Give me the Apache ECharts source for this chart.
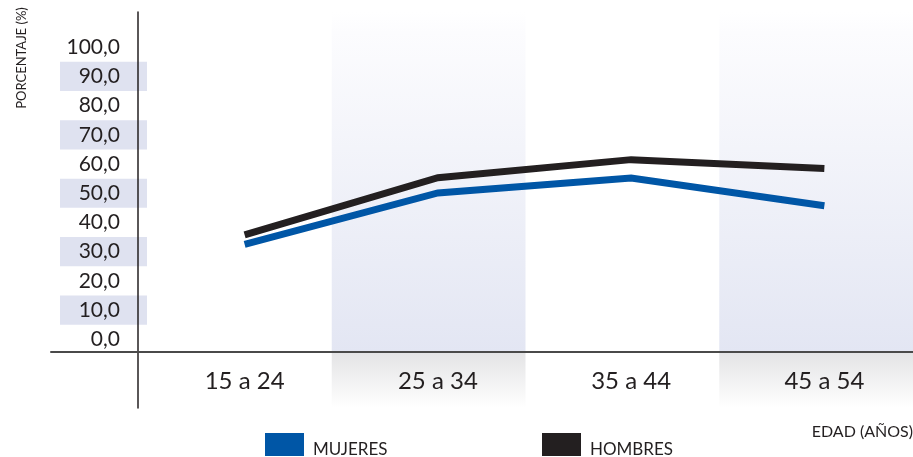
<!DOCTYPE html>
<html>
<head>
<meta charset="utf-8">
<script src="https://cdn.jsdelivr.net/npm/echarts@6/dist/echarts.min.js"></script>
<style>
  html, body { margin: 0; padding: 0; background: #fff; }
  #chart { width: 913px; height: 457px; }
</style>
</head>
<body>
<div id="chart"></div>
<script>
var categories = ['15 a 24', '25 a 34', '35 a 44', '45 a 54']
var mujeres = [32.5, 50.1, 55.2, 45.7]
var hombres = [35.8, 55.3, 61.5, 58.5]
var yTicks = [0, 10, 20, 30, 40, 50, 60, 70, 80, 90, 100]

var TEXT = '#231f20'
var BLUE = '#0056a6'
var FONT = 'Lato'

// vertical layout (px) and value range of the plot
var H = 457
var plotTop = 12
var axisY = 352
var yMin = -4.3
var yMax = 112
function yPix(v) {
  return plotTop + (yMax - v) / (yMax - yMin) * (axisY - plotTop)
}

function fmt(v) {
  return v.toFixed(1).replace('.', ',')
}

var legendText = {
  color: TEXT,
  fontFamily: FONT,
  fontSize: 17,
  rich: {
    t: { color: TEXT, fontFamily: FONT, fontSize: 17, padding: [10, 0, 0, 4] }
  }
}

var chart = echarts.init(document.getElementById('chart'))

chart.setOption({
  animation: false,
  backgroundColor: '#fff',
  grid: [
    // 0: data
    { left: 148, width: 773, top: plotTop, bottom: H - axisY, outerBoundsMode: 'none' },
    // 1: shaded columns above the axis + vertical axis
    { left: 138, right: 0, top: plotTop, bottom: H - axisY, outerBoundsMode: 'none' },
    // 2: shaded columns below the axis
    { left: 138, right: 0, top: axisY, bottom: 49, outerBoundsMode: 'none' },
    // 3: horizontal axis line
    { left: 51, right: 0, top: plotTop, bottom: H - axisY, outerBoundsMode: 'none' },
    // 4: bands behind y labels
    { left: 60, width: 87, top: yPix(95), bottom: H - yPix(5), outerBoundsMode: 'none' }
  ],
  xAxis: [
    {
      gridIndex: 0,
      type: 'category',
      data: categories,
      boundaryGap: true,
      axisLine: { show: false },
      axisTick: { show: false },
      axisLabel: { color: TEXT, fontFamily: FONT, fontSize: 24, margin: 17 }
    },
    {
      gridIndex: 1,
      type: 'category',
      data: categories,
      axisLine: { show: false },
      axisTick: { show: false },
      axisLabel: { show: false },
      splitArea: {
        show: true,
        areaStyle: {
          color: [
            'rgba(0,0,0,0)',
            new echarts.graphic.LinearGradient(0, 0, 0, 1, [
              { offset: 0, color: '#ffffff' },
              { offset: 0.06, color: '#fcfcfe' },
              { offset: 1, color: '#e3e6f3' }
            ])
          ]
        }
      }
    },
    {
      gridIndex: 2,
      type: 'category',
      data: categories,
      axisLine: { show: false },
      axisTick: { show: false },
      axisLabel: { show: false },
      splitArea: {
        show: true,
        areaStyle: {
          color: [
            'rgba(0,0,0,0)',
            new echarts.graphic.LinearGradient(0, 0, 0, 1, [
              { offset: 0, color: '#e3e3e5' },
              { offset: 1, color: '#ffffff' }
            ])
          ]
        }
      }
    },
    {
      gridIndex: 3,
      type: 'value',
      z: 1,
      axisLine: { show: true, onZero: false, lineStyle: { color: '#4a4a4a', width: 2 } },
      axisTick: { show: false },
      axisLabel: { show: false },
      splitLine: { show: false }
    },
    {
      gridIndex: 4,
      type: 'value',
      show: false
    }
  ],
  yAxis: [
    {
      gridIndex: 0,
      type: 'value',
      min: yMin,
      max: yMax,
      z: 1,
      axisLine: { show: false },
      axisTick: { show: false },
      splitLine: { show: false },
      axisLabel: {
        customValues: yTicks,
        formatter: fmt,
        color: TEXT,
        fontFamily: FONT,
        fontSize: 21,
        margin: 28
      }
    },
    {
      gridIndex: 1,
      type: 'value',
      z: 1,
      axisLine: { show: true, lineStyle: { color: TEXT, width: 1.5 } },
      axisTick: { show: false },
      axisLabel: { show: false },
      splitLine: { show: false }
    },
    {
      gridIndex: 2,
      type: 'value',
      z: 1,
      axisLine: { show: true, lineStyle: { color: TEXT, width: 1.5 } },
      axisTick: { show: false },
      axisLabel: { show: false },
      splitLine: { show: false }
    },
    {
      gridIndex: 3,
      type: 'value',
      show: false
    },
    {
      gridIndex: 4,
      type: 'value',
      min: 5,
      max: 95,
      interval: 10,
      z: 0,
      axisLine: { show: false },
      axisTick: { show: false },
      axisLabel: { show: false },
      splitLine: { show: false },
      splitArea: {
        show: true,
        areaStyle: { color: ['#dfe2f0', 'rgba(0,0,0,0)'] }
      }
    }
  ],
  legend: [
    {
      data: ['MUJERES'],
      left: 265,
      top: 433,
      padding: 0,
      icon: 'rect',
      itemWidth: 39,
      itemHeight: 23,
      itemStyle: { borderWidth: 0 },
      formatter: '{t|{name}}',
      textStyle: legendText
    },
    {
      data: ['HOMBRES'],
      left: 542,
      top: 433,
      padding: 0,
      icon: 'rect',
      itemWidth: 39,
      itemHeight: 23,
      itemStyle: { borderWidth: 0 },
      formatter: '{t|{name}}',
      textStyle: legendText
    }
  ],
  title: {
    text: 'EDAD (AÑOS)',
    right: 0,
    top: 424,
    padding: 0,
    textStyle: { color: TEXT, fontFamily: FONT, fontSize: 16, fontWeight: 'normal' }
  },
  graphic: [
    {
      type: 'text',
      x: 22,
      y: 58,
      rotation: Math.PI / 2,
      style: {
        text: 'PORCENTAJE (%)',
        fill: TEXT,
        font: '13px Lato',
        textAlign: 'center',
        textVerticalAlign: 'middle'
      }
    }
  ],
  series: [
    {
      name: 'MUJERES',
      type: 'line',
      xAxisIndex: 0,
      yAxisIndex: 0,
      data: mujeres,
      symbol: 'none',
      color: BLUE,
      lineStyle: { color: BLUE, width: 7, join: 'miter' }
    },
    {
      name: 'HOMBRES',
      type: 'line',
      xAxisIndex: 0,
      yAxisIndex: 0,
      data: hombres,
      symbol: 'none',
      color: TEXT,
      lineStyle: { color: TEXT, width: 7, join: 'miter' }
    }
  ]
})
</script>
</body>
</html>
